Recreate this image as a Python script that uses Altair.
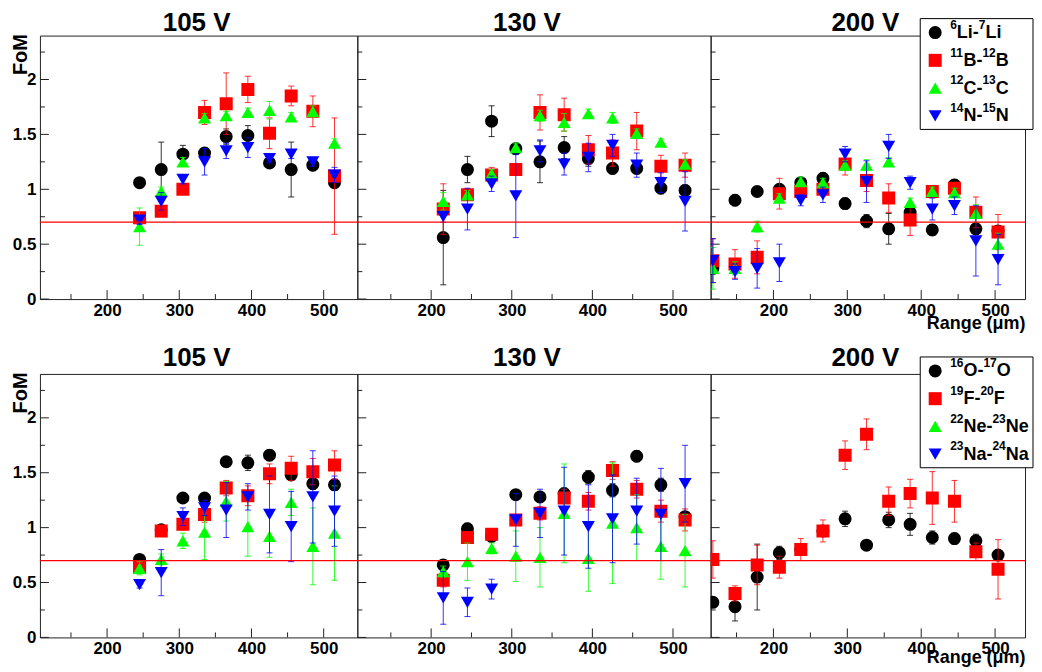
import altair as alt
import pandas as pd

FONT = "Liberation Sans"
PANEL_TITLES = ["105 V", "130 V", "200 V"]
COLORS = ["#000000", "#ff0000", "#00ff00", "#0000ff"]
SHAPES = ["circle", "square", "triangle-up", "triangle-down"]
NAMES_TOP = ["⁶Li-⁷Li", "¹¹B-¹²B", "¹²C-¹³C", "¹⁴N-¹⁵N"]
NAMES_BOTTOM = ["¹⁶O-¹⁷O", "¹⁹F-²⁰F", "²²Ne-²³Ne", "²³Na-²⁴Na"]
X_TITLE = "Range (μm)"
Y_TITLE = "FoM"

RANGE_105 = [245, 275, 305, 335, 365, 395, 425, 455, 485, 515]
RANGE_130 = [215, 245, 275, 305, 335, 365, 395, 425, 455, 485, 515]
RANGE_200 = [118, 148, 178, 208, 237, 267, 297, 326, 356, 385, 415, 445, 474, 504]

THRESHOLD = 0.7
X_TICKS_MAJOR = [200, 300, 400, 500]
X_TICKS_MINOR = [150, 250, 350, 450]
Y_TICKS_MAJOR = [0, 0.5, 1, 1.5, 2]
Y_TICKS_MINOR = [0.25, 0.75, 1.25, 1.75, 2.25]

# ---- top row: Li, B, C, N ----
LI_105 = [1.06, 1.18, 1.32, 1.33, 1.48, 1.49, 1.24, 1.18, 1.22, 1.06]
LI_105_ERR = [0.04, 0.25, 0.08, 0.05, 0.07, 0.09, 0.04, 0.25, 0.05, 0.04]
B_105 = [0.74, 0.80, 1.00, 1.70, 1.78, 1.91, 1.51, 1.85, 1.71, 1.12]
B_105_ERR = [0.04, 0.04, 0.04, 0.11, 0.28, 0.12, 0.14, 0.09, 0.14, 0.53]
C_105 = [0.66, 0.98, 1.25, 1.65, 1.67, 1.70, 1.72, 1.66, 1.71, 1.42]
C_105_ERR = [0.17, 0.04, 0.04, 0.04, 0.04, 0.04, 0.08, 0.04, 0.05, 0.04]
N_105 = [0.72, 0.89, 1.09, 1.25, 1.35, 1.38, 1.28, 1.32, 1.25, 1.13]
N_105_ERR = [0.04, 0.08, 0.04, 0.12, 0.07, 0.09, 0.04, 0.04, 0.04, 0.07]

LI_130 = [0.56, 1.18, 1.62, 1.37, 1.25, 1.38, 1.28, 1.19, 1.19, 1.01, 0.99]
LI_130_ERR = [0.43, 0.12, 0.14, 0.05, 0.19, 0.10, 0.07, 0.05, 0.05, 0.05, 0.05]
B_130 = [0.82, 0.95, 1.13, 1.18, 1.70, 1.68, 1.36, 1.33, 1.53, 1.21, 1.22]
B_130_ERR = [0.23, 0.05, 0.07, 0.05, 0.16, 0.15, 0.13, 0.12, 0.17, 0.10, 0.11]
C_130 = [0.89, 0.95, 1.14, 1.38, 1.67, 1.61, 1.69, 1.65, 1.51, 1.43, 1.23]
C_130_ERR = [0.08, 0.04, 0.04, 0.04, 0.05, 0.08, 0.04, 0.05, 0.04, 0.03, 0.04]
N_130 = [0.75, 0.82, 1.05, 0.94, 1.35, 1.23, 1.29, 1.40, 1.22, 1.06, 0.89]
N_130_ERR = [0.05, 0.19, 0.07, 0.38, 0.10, 0.10, 0.13, 0.10, 0.11, 0.09, 0.27]

LI_200 = [0.28, 0.90, 0.98, 1.00, 1.06, 1.10, 0.87, 0.71, 0.64, 0.79, 0.63, 1.04, 0.64, 0.62]
LI_200_ERR = [0.05, 0.05, 0.03, 0.04, 0.04, 0.05, 0.05, 0.06, 0.14, 0.05, 0.05, 0.05, 0.05, 0.05]
B_200 = [0.35, 0.32, 0.38, 0.96, 0.98, 1.00, 1.23, 1.08, 0.92, 0.72, 0.98, 1.01, 0.79, 0.61]
B_200_ERR = [0.20, 0.13, 0.15, 0.14, 0.06, 0.06, 0.10, 0.10, 0.13, 0.14, 0.05, 0.05, 0.14, 0.16]
C_200 = [0.28, 0.28, 0.66, 0.92, 1.07, 1.06, 1.22, 1.22, 1.25, 0.88, 0.98, 0.97, 0.78, 0.50]
C_200_ERR = [0.19, 0.06, 0.05, 0.04, 0.04, 0.04, 0.04, 0.05, 0.04, 0.04, 0.04, 0.04, 0.08, 0.10]
N_200 = [0.35, 0.25, 0.28, 0.33, 0.90, 0.95, 1.32, 1.07, 1.39, 1.06, 0.82, 0.85, 0.53, 0.36]
N_200_ERR = [0.20, 0.07, 0.18, 0.17, 0.05, 0.07, 0.07, 0.19, 0.11, 0.06, 0.10, 0.08, 0.32, 0.23]

# ---- bottom row: O, F, Ne, Na ----
O_105 = [0.71, 0.98, 1.27, 1.27, 1.60, 1.59, 1.66, 1.48, 1.40, 1.39]
O_105_ERR = [0.03, 0.04, 0.04, 0.04, 0.04, 0.07, 0.05, 0.04, 0.05, 0.05]
F_105 = [0.64, 0.97, 1.03, 1.12, 1.36, 1.29, 1.49, 1.54, 1.51, 1.57]
F_105_ERR = [0.06, 0.05, 0.05, 0.07, 0.07, 0.09, 0.09, 0.11, 0.12, 0.13]
NE_105 = [0.63, 0.71, 0.88, 0.96, 1.24, 1.01, 0.92, 1.23, 0.83, 0.95]
NE_105_ERR = [0.06, 0.05, 0.07, 0.25, 0.18, 0.27, 0.19, 0.12, 0.35, 0.43]
NA_105 = [0.48, 0.59, 1.10, 1.18, 1.16, 1.28, 1.12, 1.01, 1.28, 1.15]
NA_105_ERR = [0.03, 0.21, 0.08, 0.07, 0.25, 0.12, 0.35, 0.32, 0.42, 0.32]

O_130 = [0.66, 0.99, 0.92, 1.30, 1.28, 1.31, 1.46, 1.34, 1.65, 1.39, 1.10]
O_130_ERR = [0.04, 0.05, 0.04, 0.04, 0.05, 0.05, 0.06, 0.06, 0.05, 0.06, 0.04]
F_130 = [0.52, 0.91, 0.94, 1.07, 1.13, 1.27, 1.24, 1.52, 1.35, 1.15, 1.07]
F_130_ERR = [0.06, 0.05, 0.05, 0.05, 0.06, 0.08, 0.08, 0.08, 0.08, 0.10, 0.10]
NE_130 = [0.60, 0.69, 0.81, 0.74, 0.73, 1.13, 0.72, 1.04, 1.00, 0.83, 0.79]
NE_130_ERR = [0.05, 0.17, 0.05, 0.23, 0.27, 0.45, 0.30, 0.55, 0.30, 0.30, 0.33]
NA_130 = [0.36, 0.32, 0.44, 1.07, 1.13, 1.15, 1.01, 1.08, 1.15, 1.12, 1.40]
NA_130_ERR = [0.24, 0.13, 0.09, 0.24, 0.22, 0.40, 0.38, 0.40, 0.30, 0.42, 0.35]

O_200 = [0.32, 0.28, 0.55, 0.77, 0.80, 0.97, 1.08, 0.84, 1.07, 1.03, 0.91, 0.90, 0.88, 0.75]
O_200_ERR = [0.04, 0.13, 0.30, 0.06, 0.04, 0.04, 0.07, 0.03, 0.07, 0.10, 0.06, 0.05, 0.06, 0.04]
F_200 = [0.71, 0.40, 0.66, 0.64, 0.80, 0.97, 1.66, 1.85, 1.24, 1.31, 1.27, 1.24, 0.78, 0.62]
F_200_ERR = [0.17, 0.07, 0.18, 0.10, 0.10, 0.10, 0.13, 0.14, 0.13, 0.13, 0.24, 0.19, 0.08, 0.27]

RANGES = [RANGE_105, RANGE_130, RANGE_200]
SERIES = {
    (0, 0): [(LI_105, LI_105_ERR), (B_105, B_105_ERR), (C_105, C_105_ERR), (N_105, N_105_ERR)],
    (0, 1): [(LI_130, LI_130_ERR), (B_130, B_130_ERR), (C_130, C_130_ERR), (N_130, N_130_ERR)],
    (0, 2): [(LI_200, LI_200_ERR), (B_200, B_200_ERR), (C_200, C_200_ERR), (N_200, N_200_ERR)],
    (1, 0): [(O_105, O_105_ERR), (F_105, F_105_ERR), (NE_105, NE_105_ERR), (NA_105, NA_105_ERR)],
    (1, 1): [(O_130, O_130_ERR), (F_130, F_130_ERR), (NE_130, NE_130_ERR), (NA_130, NA_130_ERR)],
    (1, 2): [(O_200, O_200_ERR), (F_200, F_200_ERR), None, None],
}

# ---- layout (pixels) ----
W = [318, 354, 315]
H = 264
XDOM = [[107, 546.6], [108.4, 546.7], [115, 540.5]]
YDOM = [0, 2.4]
TITLE_X = [157, 170, 155]
TITLE_Y = [-5, -7.5]
XTITLE_Y = [29, 25]
FRAME = "#222222"

# legend text: superscripts drawn as smaller raised text (Arial-bold advance widths)
SUP = {"⁰": "0", "¹": "1", "²": "2", "³": "3", "⁴": "4",
       "⁵": "5", "⁶": "6", "⁷": "7", "⁸": "8", "⁹": "9"}
ADV = {"L": 0.611, "i": 0.278, "-": 0.333, "B": 0.722, "C": 0.722, "N": 0.722,
       "O": 0.778, "F": 0.611, "e": 0.556, "a": 0.556}
MAIN_FS = 18
SUP_FS = 12


def segments(name):
    segs = []
    for ch in name:
        sup = ch in SUP
        c = SUP.get(ch, ch)
        if segs and segs[-1][0] == sup:
            segs[-1][1] += c
        else:
            segs.append([sup, c])
    return segs


def panel(r, c):
    w = W[c]
    names = NAMES_TOP if r == 0 else NAMES_BOTTOM
    recs = []
    for s, item in enumerate(SERIES[(r, c)]):
        if item is None:
            continue
        for x, y, e in zip(RANGES[c], item[0], item[1]):
            recs.append({"s": s, "x": x, "y": y, "e": e})
    df = pd.DataFrame(recs)

    xs = alt.Scale(domain=XDOM[c], nice=False, zero=False)
    ys = alt.Scale(domain=YDOM, nice=False, zero=False)
    xkw = dict(values=X_TICKS_MAJOR, ticks=False, domain=False, grid=False,
               labelFont=FONT, labelFontSize=17, labelFontWeight="bold",
               labelColor="black", labelPadding=3, format="d")
    if c == 2:
        xkw.update(title=X_TITLE, titleFont=FONT, titleFontSize=18,
                   titleFontWeight="bold", titleColor="black", titleX=w,
                   titleY=XTITLE_Y[r], titleAlign="right", titleAnchor="end",
                   titleBaseline="alphabetic", titleAngle=0)
    else:
        xkw.update(title=None)
    xaxis = alt.Axis(**xkw)
    if c == 0:
        yaxis = alt.Axis(values=Y_TICKS_MAJOR, ticks=False, domain=False, grid=False,
                         labelFont=FONT, labelFontSize=17, labelFontWeight="bold",
                         labelColor="black", labelPadding=4, format="~g",
                         title=Y_TITLE, titleFont=FONT, titleFontSize=20,
                         titleFontWeight="bold", titleColor="black",
                         titleX=-13, titleY=-2, titleAngle=270,
                         titleAlign="right", titleBaseline="alphabetic")
    else:
        yaxis = None

    def X(f):
        return alt.X(f, type="quantitative", scale=xs, axis=xaxis)

    def Y(f):
        return alt.Y(f, type="quantitative", scale=ys, axis=yaxis)

    layers = []
    # inward ticks
    layers.append(alt.Chart(pd.DataFrame({"v": X_TICKS_MAJOR})).mark_rule(color=FRAME, strokeWidth=1)
                  .encode(x=X("v"), y=alt.value(H), y2=alt.value(H - 9)))
    layers.append(alt.Chart(pd.DataFrame({"v": X_TICKS_MINOR})).mark_rule(color=FRAME, strokeWidth=1)
                  .encode(x=X("v"), y=alt.value(H), y2=alt.value(H - 5)))
    layers.append(alt.Chart(pd.DataFrame({"v": Y_TICKS_MAJOR})).mark_rule(color=FRAME, strokeWidth=1)
                  .encode(y=Y("v"), x=alt.value(0), x2=alt.value(9)))
    layers.append(alt.Chart(pd.DataFrame({"v": Y_TICKS_MINOR})).mark_rule(color=FRAME, strokeWidth=1)
                  .encode(y=Y("v"), x=alt.value(0), x2=alt.value(5)))

    for s in range(4):
        if SERIES[(r, c)][s] is None:
            continue
        base = (alt.Chart(df).transform_filter(alt.datum.s == s)
                .transform_calculate(lo="datum.y - datum.e", hi="datum.y + datum.e"))
        col = COLORS[s]
        layers.append(base.mark_rule(color=col, strokeWidth=1, opacity=0.8, clip=True)
                      .encode(x=X("x"), y=Y("lo"), y2="hi"))
        layers.append(base.mark_rule(color=col, strokeWidth=1, opacity=0.8, clip=True,
                                     xOffset=-3, x2Offset=3)
                      .encode(x=X("x"), x2="x", y=Y("lo")))
        layers.append(base.mark_rule(color=col, strokeWidth=1, opacity=0.8, clip=True,
                                     xOffset=-3, x2Offset=3)
                      .encode(x=X("x"), x2="x", y=Y("hi")))
        layers.append(base.mark_point(filled=True, size=170, opacity=1, clip=True, strokeWidth=0)
                      .encode(x=X("x"), y=Y("y"), color=alt.value(col),
                              shape=alt.value(SHAPES[s])))

    # threshold line
    layers.append(alt.Chart(pd.DataFrame({"t": [THRESHOLD]})).mark_rule(color="#ff0000", strokeWidth=1.3)
                  .encode(y=Y("t"), x=alt.value(0), x2=alt.value(w)))

    # panel title
    layers.append(alt.Chart(pd.DataFrame({"t": [PANEL_TITLES[c]]}))
                  .mark_text(font=FONT, fontSize=26, fontWeight="bold", color="black",
                             align="center", baseline="alphabetic")
                  .encode(x=alt.value(TITLE_X[c]), y=alt.value(TITLE_Y[r]), text="t:N"))

    # legend
    if c == 2:
        layers.append(alt.Chart(pd.DataFrame({"a": [0]}))
                      .mark_rect(fill="white", stroke="black", strokeWidth=1)
                      .encode(x=alt.value(210), x2=alt.value(323), y=alt.value(-17), y2=alt.value(94)))
        for i, name in enumerate(names):
            yy = -3 + 27.8 * i
            layers.append(alt.Chart(pd.DataFrame({"a": [0]}))
                          .mark_point(filled=True, size=170, opacity=1, strokeWidth=0)
                          .encode(x=alt.value(225), y=alt.value(yy), color=alt.value(COLORS[i]),
                                  shape=alt.value(SHAPES[i])))
            cx = 240.0
            for sup, txt in segments(name):
                fs = SUP_FS if sup else MAIN_FS
                by = yy - 3.7 if sup else yy + 5.5
                layers.append(alt.Chart(pd.DataFrame({"t": [txt]}))
                              .mark_text(font=FONT, fontSize=fs, fontWeight="bold", color="black",
                                         align="left", baseline="alphabetic")
                              .encode(x=alt.value(cx), y=alt.value(by), text="t:N"))
                cx += sum(0.556 if ch.isdigit() else ADV.get(ch, 0.6) for ch in txt) * fs

    return alt.layer(*layers).properties(width=w, height=H)


panels = [panel(r, c) for r in range(2) for c in range(3)]
chart = (alt.concat(*panels, columns=3, spacing={"row": 75, "column": 0},
                    bounds="flush", align="each")
         .properties(padding={"left": 2, "top": 0, "right": 0, "bottom": 0}, background="white")
         .configure_view(stroke=FRAME, strokeWidth=1))

chart.save("out.html", embed_options={"renderer": "svg", "actions": False})
